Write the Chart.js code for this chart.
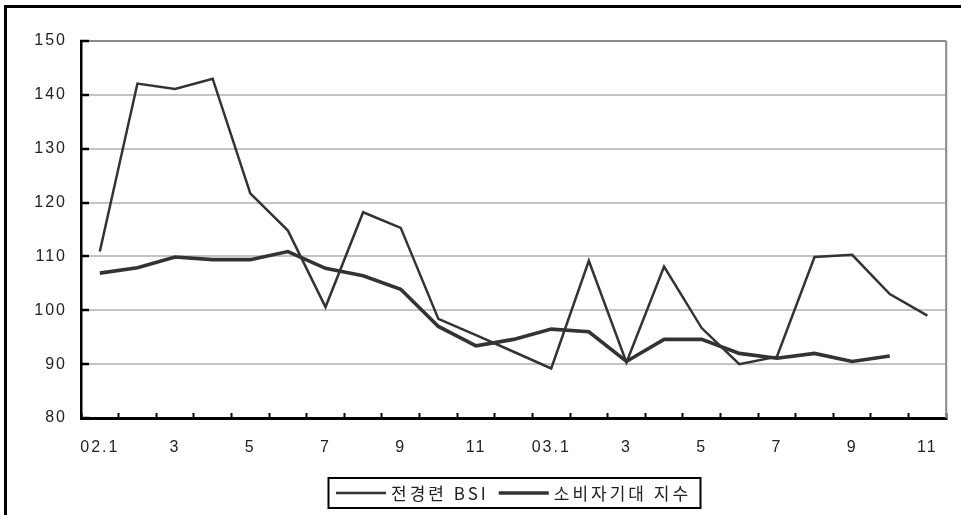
<!DOCTYPE html>
<html>
<head>
<meta charset="utf-8">
<script src="https://cdn.jsdelivr.net/npm/chart.js@4/dist/chart.umd.min.js"></script>
<style>
  html, body { margin: 0; padding: 0; background: #fff; }
  #wrap { position: relative; width: 961px; height: 515px; }
</style>
</head>
<body>
<div id="wrap"><canvas id="c" width="961" height="515"></canvas></div>
<script>
// Months from Jan 2002 to Nov 2003
const months = ['02.1','2','3','4','5','6','7','8','9','10','11','12',
                '03.1','2','3','4','5','6','7','8','9','10','11'];

// FKI business survey index (전경련 BSI)
const bsi = [110.9, 142.1, 141.1, 143.0, 121.7, 114.8, 100.6, 118.2, 115.3, 98.4, 95.4, 92.3,
             89.2, 109.2, 90.3, 108.1, 96.7, 90.0, 91.4, 109.9, 110.3, 103.0, 99.0];

// Consumer expectations index (소비자기대지수), through Oct 2003
const consumer = [106.9, 107.9, 109.9, 109.4, 109.4, 110.9, 107.8, 106.4, 103.9, 97.0, 93.4, 94.6,
                  96.5, 96.0, 90.5, 94.6, 94.6, 92.0, 91.1, 92.0, 90.5, 91.5];

const seriesNames = ['전경련 BSI', '소비자기대 지수'];
const yTicks = [80, 90, 100, 110, 120, 130, 140, 150];

const LINE = '#333333';
const TEXT = '#222222';
const NUM_FONT = { family: '"Liberation Sans", Arial, sans-serif', size: 16 };

// White page, outer frame, right edge of the plot box
const framePlugin = {
  id: 'frame',
  beforeDraw(chart) {
    const ctx = chart.ctx;
    ctx.save();
    ctx.fillStyle = '#fff';
    ctx.fillRect(0, 0, chart.width, chart.height);
    ctx.restore();
    ctx.letterSpacing = '2px';
  },
  beforeDatasetsDraw(chart) {
    const { ctx, chartArea: a } = chart;
    ctx.save();
    ctx.strokeStyle = '#8a8a8a';
    ctx.lineWidth = 2;
    ctx.beginPath();
    ctx.moveTo(a.right, a.top);
    ctx.lineTo(a.right, a.bottom);
    ctx.stroke();
    ctx.restore();
  },
  afterDraw(chart) {
    const ctx = chart.ctx;
    ctx.save();
    ctx.strokeStyle = '#000';
    ctx.lineWidth = 3;
    ctx.beginPath();
    ctx.moveTo(chart.width + 2, 6.5);
    ctx.lineTo(5.5, 6.5);
    ctx.lineTo(5.5, chart.height + 2);
    ctx.stroke();
    ctx.restore();
  }
};

// Boxed legend centred under the plot
const legendBox = {
  id: 'legendBox',
  afterDraw(chart) {
    const ctx = chart.ctx;
    const a = chart.chartArea;
    const ds = chart.data.datasets;
    ctx.save();
    ctx.font = '17px "Noto Sans CJK KR", sans-serif';
    ctx.letterSpacing = '3px';
    ctx.textBaseline = 'middle';
    ctx.textAlign = 'left';
    const lineLen = 50, gapLT = 5, gapItems = 10, padL = 8, padR = 9;
    const widths = ds.map(d => ctx.measureText(d.label).width);
    let total = padL + padR;
    widths.forEach((w, i) => { total += lineLen + gapLT + w + (i ? gapItems : 0); });
    const cx = (a.left + a.right) / 2;
    const left = Math.round(cx - total / 2);
    const top = 478, h = 30, cy = top + h / 2;
    ctx.strokeStyle = '#000';
    ctx.lineWidth = 2;
    ctx.strokeRect(left + 0.5, top, Math.round(total), h);
    let x = left + padL;
    ds.forEach((d, i) => {
      if (i) x += gapItems;
      ctx.strokeStyle = d.borderColor;
      ctx.lineWidth = d.borderWidth;
      ctx.beginPath();
      ctx.moveTo(x, cy);
      ctx.lineTo(x + lineLen, cy);
      ctx.stroke();
      x += lineLen + gapLT;
      ctx.fillStyle = TEXT;
      ctx.fillText(d.label, x, cy + 1);
      x += widths[i];
    });
    ctx.restore();
  }
};

new Chart(document.getElementById('c'), {
  type: 'line',
  data: {
    labels: months,
    datasets: [
      {
        label: seriesNames[0],
        data: bsi,
        borderColor: LINE,
        borderWidth: 2.5,
        pointRadius: 0,
        tension: 0,
        fill: false
      },
      {
        label: seriesNames[1],
        data: consumer,
        borderColor: LINE,
        borderWidth: 3.6,
        pointRadius: 0,
        tension: 0,
        fill: false
      }
    ]
  },
  options: {
    responsive: false,
    animation: false,
    devicePixelRatio: 1,
    layout: { padding: { left: 0, top: 41, right: 14, bottom: 0 } },
    plugins: {
      legend: { display: false },
      tooltip: { enabled: false }
    },
    scales: {
      x: {
        type: 'category',
        offset: true,
        grid: {
          display: true,
          offset: true,
          drawOnChartArea: false,
          drawTicks: true,
          tickLength: -5,
          tickWidth: 2,
          tickColor: '#000'
        },
        border: { display: true, color: '#000', width: 3 },
        ticks: {
          autoSkip: false,
          maxRotation: 0,
          padding: 25,
          color: TEXT,
          font: NUM_FONT,
          callback: (v, i) => (i % 2 === 0 ? months[i] : '')
        },
        afterFit(scale) { scale.height = 97; }
      },
      y: {
        min: 80,
        max: 150,
        afterBuildTicks(scale) { scale.ticks = yTicks.map(v => ({ value: v })); },
        grid: {
          color: c => (c.tick && c.tick.value === 150 ? '#8a8a8a' : '#c4c4c4'),
          lineWidth: 2,
          drawTicks: true,
          tickLength: -8,
          tickWidth: 2.5,
          tickColor: '#000'
        },
        border: { display: true, color: '#000', width: 2.5 },
        ticks: {
          padding: 22,
          color: TEXT,
          font: NUM_FONT
        },
        afterFit(scale) { scale.width = 81; }
      }
    }
  },
  plugins: [framePlugin, legendBox]
});
</script>
</body>
</html>
